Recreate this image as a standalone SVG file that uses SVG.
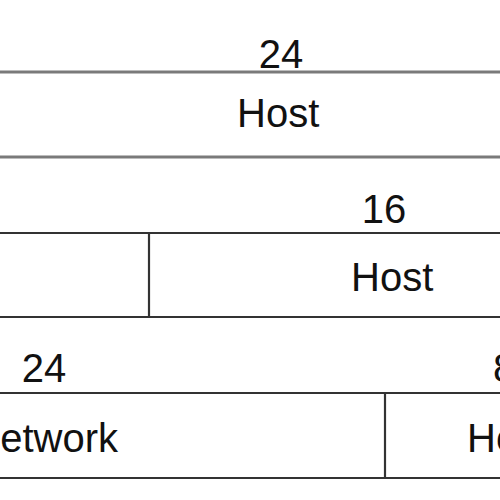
<svg xmlns="http://www.w3.org/2000/svg" width="500" height="500" viewBox="0 0 500 500">
<style>
.t{font-family:"Liberation Sans",Arial,sans-serif;font-size:40px;fill:#111}
.l1{stroke:#7a7a7a;stroke-width:3;fill:none}
.l{stroke:#333;stroke-width:2.2;fill:none}
</style>
<rect width="500" height="500" fill="#fff"/>
<g id="connectors">
<line class="l1" x1="0" y1="72" x2="500" y2="72"/>
<line class="l1" x1="0" y1="157" x2="500" y2="157"/>
<line class="l" x1="0" y1="233" x2="500" y2="233"/>
<line class="l" x1="0" y1="317" x2="500" y2="317"/>
<line class="l" x1="149" y1="233" x2="149" y2="317"/>
<line class="l" x1="0" y1="393" x2="500" y2="393"/>
<line class="l" x1="0" y1="478" x2="500" y2="478"/>
<line class="l" x1="385" y1="393" x2="385" y2="478"/>
</g>
<g id="row1">
<text class="t" x="281" y="68" text-anchor="middle">24</text>
<text class="t" x="237" y="127">Host</text>
</g>
<g id="row2">
<text class="t" x="384" y="223" text-anchor="middle">16</text>
<text class="t" x="351" y="291">Host</text>
</g>
<g id="row3">
<text class="t" x="44" y="382" text-anchor="middle">24</text>
<text class="t" x="118" y="452" text-anchor="end">Network</text>
<text class="t" x="493" y="382">8</text>
<text class="t" x="467" y="452">Host</text>
</g>
</svg>
